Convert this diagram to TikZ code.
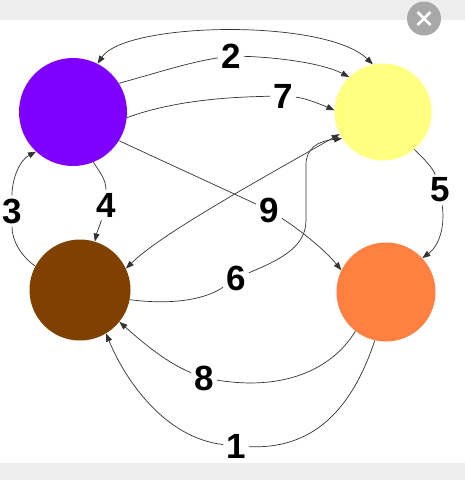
\documentclass[tikz,border=0pt]{standalone}
\usepackage{fontspec}
\setmainfont{Liberation Sans}
\usetikzlibrary{arrows.meta}
\definecolor{cpurple}{HTML}{7F00FF}
\definecolor{cyellow}{HTML}{FFFF80}
\definecolor{cbrown}{HTML}{804000}
\definecolor{corange}{HTML}{FF8040}
\definecolor{band}{HTML}{EEEEEE}
\definecolor{btn}{HTML}{A8A8A8}
\definecolor{edgecol}{HTML}{333333}
\begin{document}
\begin{tikzpicture}[x=1pt,y=-1pt,
  ball/.style={circle,draw=none,inner sep=0pt},
  num/.style={font=\fontsize{35}{35}\selectfont\bfseries,inner sep=3pt},
  edge/.style={draw=edgecol,line width=0.7pt},
  tip/.style={-{Triangle[length=8pt,width=6pt]}},
  tips/.style={{Triangle[length=8pt,width=6pt]}-{Triangle[length=8pt,width=6pt]}}]
\useasboundingbox (0,0) rectangle (465,480);
\fill[white] (0,0) rectangle (465,480);
\fill[band] (0,0) rectangle (465,20);
\fill[band] (0,463) rectangle (465,480);
\node[ball,fill=btn,minimum size=34pt] (close) at (424,18.5) {};
\draw[white,line width=2.6pt] ([xshift=-6.5pt,yshift=-6.5pt]close.center) -- ([xshift=6.5pt,yshift=6.5pt]close.center);
\draw[white,line width=2.6pt] ([xshift=-6.5pt,yshift=6.5pt]close.center) -- ([xshift=6.5pt,yshift=-6.5pt]close.center);

\node[ball,fill=cpurple,minimum size=108pt] (P) at (73,112) {};
\node[ball,fill=cyellow,minimum size=97pt] (Y) at (383,112) {};
\node[ball,fill=cbrown,minimum size=101pt] (B) at (80,290) {};
\node[ball,fill=corange,minimum size=99pt] (O) at (386,292) {};

\node[num] (l1) at (236,446) {1};
\node[num] (l2) at (231,56) {2};
\node[num] (l3) at (12,211) {3};
\node[num] (l4) at (106,205) {4};
\node[num] (l5) at (440,190) {5};
\node[num] (l6) at (236,278) {6};
\node[num] (l7) at (283,96) {7};
\node[num] (l8) at (204,378) {8};
\node[num] (l9) at (269,210) {9};

% top arc
\draw[edge,tips] (P.63) .. controls (125,22) and (325,18) .. (Y.102);
% 2
\draw[edge,tip] (P.32) .. controls (160,72) and (190,62) .. (l2) .. controls (270,57) and (320,62) .. (Y.134);
% 7
\draw[edge,tip] (P.-6) .. controls (175,100) and (230,97) .. (l7) .. controls (305,98) and (320,104) .. (Y.178);
% 9
\draw[edge,tip] (P.-32) -- (l9) .. controls (300,230) and (325,250) .. (O.154);
% 4
\draw[edge,tip] (P.-68) .. controls (100,172) and (106,180) .. (l4) .. controls (100,225) and (97,232) .. (B.73);
% 3
\draw[edge,tip] (B.152) .. controls (20,255) and (12,240) .. (l3) .. controls (12,178) and (20,160) .. (P.-133);
% 5
\draw[edge,tip] (Y.-50) .. controls (425,160) and (433,168) .. (l5) .. controls (445,225) and (440,245) .. (O.43);
% 6
\draw[edge,tip] (B.-11) .. controls (170,305) and (205,300) .. (l6) .. controls (285,258) and (306,245) .. (306,220) -- (306,165) .. controls (306,148) and (318,141) .. (Y.-147);
% yellow - brown
\draw[edge,tips] (Y.-153) .. controls (250,185) and (160,235) .. (B.25);
% 8
\draw[edge,tip] (O.-128) .. controls (335,365) and (290,392) .. (l8) .. controls (165,362) and (140,340) .. (B.-39);
% 1
\draw[edge,tip] (O.-103) .. controls (355,400) and (320,450) .. (l1) .. controls (165,438) and (125,380) .. (B.-59);
\end{tikzpicture}
\end{document}
